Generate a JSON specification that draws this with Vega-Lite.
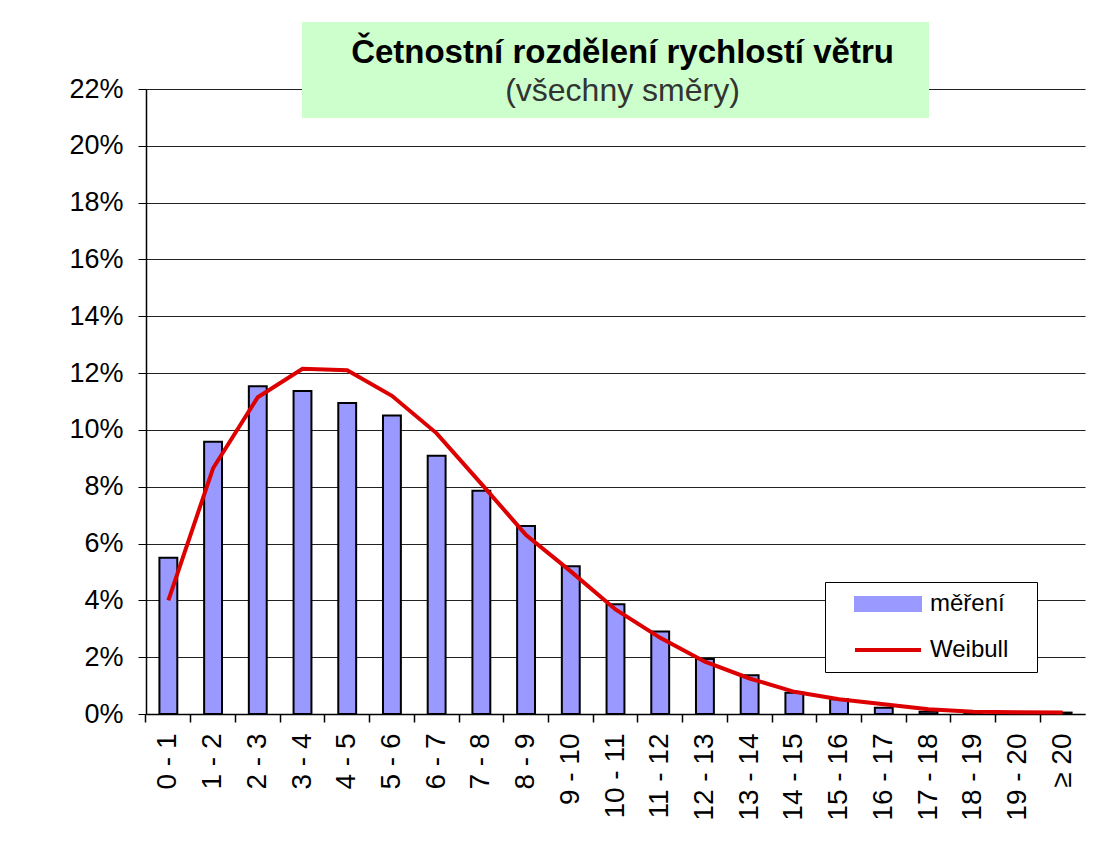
{
  "$schema": "https://vega.github.io/schema/vega-lite/v6.json",
  "width": 939,
  "height": 625,
  "autosize": {"type": "none"},
  "padding": {"left": 146, "top": 89, "right": 8, "bottom": 131},
  "background": "white",
  "config": {"view": {"stroke": null}, "font": "Liberation Sans"},
  "title": {
    "text": "Četnostní rozdělení rychlostí větru",
    "subtitle": "(všechny směry)",
    "font": "Liberation Sans",
    "fontSize": 33,
    "fontWeight": "bold",
    "color": "black",
    "subtitleFont": "Liberation Sans",
    "subtitleFontSize": 32,
    "subtitleColor": "#333333",
    "subtitlePadding": 6,
    "anchor": "middle",
    "offset": -85,
    "dx": 7
  },
  "data": {
    "values": [
      {"bin": "0 - 1", "mereni": 0.055, "weibull": 0.040},
      {"bin": "1 - 2", "mereni": 0.0958, "weibull": 0.0865},
      {"bin": "2 - 3", "mereni": 0.1154, "weibull": 0.1115},
      {"bin": "3 - 4", "mereni": 0.1137, "weibull": 0.1215},
      {"bin": "4 - 5", "mereni": 0.1095, "weibull": 0.121},
      {"bin": "5 - 6", "mereni": 0.1051, "weibull": 0.112},
      {"bin": "6 - 7", "mereni": 0.0909, "weibull": 0.0988},
      {"bin": "7 - 8", "mereni": 0.0786, "weibull": 0.081},
      {"bin": "8 - 9", "mereni": 0.0662, "weibull": 0.063},
      {"bin": "9 - 10", "mereni": 0.052, "weibull": 0.0502},
      {"bin": "10 - 11", "mereni": 0.0386, "weibull": 0.0368},
      {"bin": "11 - 12", "mereni": 0.029, "weibull": 0.0268},
      {"bin": "12 - 13", "mereni": 0.0194, "weibull": 0.0184},
      {"bin": "13 - 14", "mereni": 0.0136, "weibull": 0.0125},
      {"bin": "14 - 15", "mereni": 0.0075, "weibull": 0.0078},
      {"bin": "15 - 16", "mereni": 0.0052, "weibull": 0.0052},
      {"bin": "16 - 17", "mereni": 0.0022, "weibull": 0.0034},
      {"bin": "17 - 18", "mereni": 0.0008, "weibull": 0.0017},
      {"bin": "18 - 19", "mereni": 0.0003, "weibull": 0.0008},
      {"bin": "19 - 20", "mereni": 0.0002, "weibull": 0.0006},
      {"bin": "≥ 20", "mereni": 0.0005, "weibull": 0.0005}
    ]
  },
  "layer": [
    {
      "mark": {"type": "rect", "fill": "#ccffcc", "clip": false},
      "encoding": {
        "x": {"datum": "3 - 4", "type": "nominal", "axis": null,
          "scale": {"domain": ["0 - 1","1 - 2","2 - 3","3 - 4","4 - 5","5 - 6","6 - 7","7 - 8","8 - 9","9 - 10","10 - 11","11 - 12","12 - 13","13 - 14","14 - 15","15 - 16","16 - 17","17 - 18","18 - 19","19 - 20","≥ 20"], "paddingInner": 0.6, "paddingOuter": 0.3}},
        "x2": {"datum": "17 - 18"},
        "y": {"datum": 0.21, "type": "quantitative"},
        "y2": {"datum": 0.2435}
      }
    },
    {
      "mark": {"type": "bar", "stroke": "black", "strokeWidth": 2},
      "encoding": {
        "x": {
          "field": "bin", "type": "nominal",
          "scale": {"domain": ["0 - 1","1 - 2","2 - 3","3 - 4","4 - 5","5 - 6","6 - 7","7 - 8","8 - 9","9 - 10","10 - 11","11 - 12","12 - 13","13 - 14","14 - 15","15 - 16","16 - 17","17 - 18","18 - 19","19 - 20","≥ 20"], "paddingInner": 0.6, "paddingOuter": 0.3},
          "axis": {
            "orient": "bottom", "title": null, "labelAngle": -90, "labelFontSize": 28, "labelColor": "black",
            "labelFont": "Liberation Sans", "ticks": false, "labelPadding": 19,
            "domainColor": "black", "domainWidth": 1.5, "grid": false
          }
        },
        "y": {
          "field": "mereni", "type": "quantitative",
          "scale": {"domain": [0, 0.22], "nice": false},
          "axis": {
            "title": null, "values": [0,0.02,0.04,0.06,0.08,0.1,0.12,0.14,0.16,0.18,0.2,0.22],
            "format": ".0%", "labelFontSize": 27, "labelColor": "black", "labelFont": "Liberation Sans",
            "tickSize": 8, "tickColor": "black", "labelPadding": 15, "grid": true,
            "domainColor": "black", "domainWidth": 1.5, "gridColor": "#222222", "gridWidth": 1
          }
        },
        "color": {
          "datum": "měření", "type": "nominal",
          "scale": {"domain": ["měření", "Weibull"], "range": ["#9999ff", "#dd0000"]},
          "legend": {
            "title": null, "orient": "none", "legendX": 679, "legendY": 493,
            "padding": 10, "labelFontSize": 24, "labelFont": "Liberation Sans",
            "labelColor": "black", "symbolSize": 4356, "rowPadding": 22,
            "strokeColor": "black", "fillColor": "white",
            "encode": {
              "symbols": {"update": {
                "x": {"value": 53},
                "shape": {"signal": "datum.value === 'Weibull' ? 'M-1,0H1M3.95,0' : 'M-1,-0.21H1V0.21H-1Z'"},
                "fill": {"signal": "datum.value === 'Weibull' ? 'transparent' : '#9999ff'"},
                "stroke": {"signal": "datum.value === 'Weibull' ? '#dd0000' : '#000000'"},
                "strokeWidth": {"signal": "datum.value === 'Weibull' ? 4 : 2"},
                "strokeOpacity": {"value": 1},
                "fillOpacity": {"value": 1},
                "opacity": {"value": 1}
              }},
              "labels": {"update": {"x": {"value": 95}}}
            }
          }
        }
      }
    },
    {
      "mark": {"type": "line", "strokeWidth": 4},
      "encoding": {
        "x": {
          "field": "bin", "type": "nominal",
          "scale": {"domain": ["0 - 1","1 - 2","2 - 3","3 - 4","4 - 5","5 - 6","6 - 7","7 - 8","8 - 9","9 - 10","10 - 11","11 - 12","12 - 13","13 - 14","14 - 15","15 - 16","16 - 17","17 - 18","18 - 19","19 - 20","≥ 20"], "paddingInner": 0.6, "paddingOuter": 0.3},
          "axis": {
            "orient": "bottom", "title": null, "labels": false, "domain": false, "ticks": true, "tickSize": 8,
            "tickColor": "black", "tickWidth": 1.5, "bandPosition": -0.75, "grid": false
          }
        },
        "y": {"field": "weibull", "type": "quantitative"},
        "color": {
          "datum": "Weibull", "type": "nominal",
          "legend": {
            "title": null, "orient": "none", "legendX": 679, "legendY": 493,
            "padding": 10, "labelFontSize": 24, "labelFont": "Liberation Sans",
            "labelColor": "black", "symbolSize": 4356, "rowPadding": 22,
            "strokeColor": "black", "fillColor": "white",
            "encode": {
              "symbols": {"update": {
                "x": {"value": 53},
                "shape": {"signal": "datum.value === 'Weibull' ? 'M-1,0H1M3.95,0' : 'M-1,-0.21H1V0.21H-1Z'"},
                "fill": {"signal": "datum.value === 'Weibull' ? 'transparent' : '#9999ff'"},
                "stroke": {"signal": "datum.value === 'Weibull' ? '#dd0000' : '#111111'"},
                "strokeWidth": {"signal": "datum.value === 'Weibull' ? 4 : 2"},
                "strokeOpacity": {"value": 1},
                "fillOpacity": {"value": 1},
                "opacity": {"value": 1}
              }},
              "labels": {"update": {"x": {"value": 95}}}
            }
          }
        }
      }
    }
  ],
  "resolve": {"axis": {"x": "independent"}}
}
